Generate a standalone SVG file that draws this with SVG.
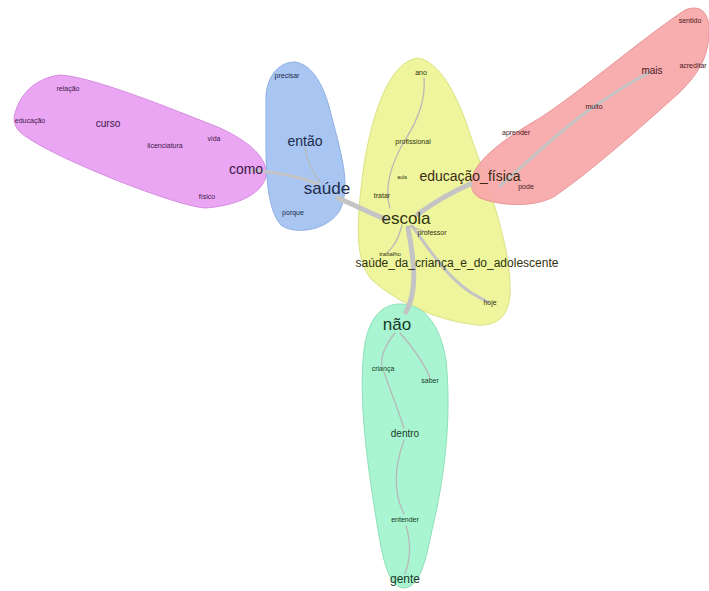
<svg xmlns="http://www.w3.org/2000/svg" width="709" height="591" viewBox="0 0 709 591">
<style>
text{font-family:"Liberation Sans",Arial,sans-serif;text-anchor:middle;dominant-baseline:middle}
.hull{stroke-width:1}
.e{fill:none;stroke:#c4c4c4;stroke-linecap:round}
.thick{stroke-width:5}
.mid{stroke-width:3}
.thin{stroke-width:1.3;stroke:#b8b8b8}
.pu{fill:#3d1748}.bl{fill:#1c2a4a}.ye{fill:#2f3210}.re{fill:#4a1a1f}.gr{fill:#183a28}
.s{font-size:7px}.m{font-size:10px}.l{font-size:14px}.xl{font-size:17px}
</style>
<rect width="709" height="591" fill="#ffffff"/>
<g id="hulls">
<path id="hull-magenta" class="hull" d="M14,118 C18,95 35,78 60,75 C90,76 170,108 220,128 C250,142 268,158 266,176 C262,195 235,206 205,208 C175,206 60,160 28,138 C18,132 14,126 14,118 Z" fill="#eaa6f3" stroke="#d58ee0"/>
<path id="hull-blue" class="hull" d="M266,95 C268,74 280,62 295,62 C310,64 322,80 330,110 C340,150 352,185 340,210 C330,228 300,236 282,226 C270,215 266,185 266,150 Z" fill="#a9c6f3" stroke="#8fb0e0"/>
<path id="hull-yellow" class="hull" d="M418,58 C440,62 458,95 472,140 C490,190 512,250 510,295 C508,322 490,328 470,324 C440,320 400,305 372,280 C356,262 356,230 362,180 C368,130 385,62 418,58 Z" fill="#eef59c" stroke="#dbe284"/>
<path id="hull-red" class="hull" d="M472,178 C476,160 505,138 540,118 C580,92 640,40 685,10 C700,4 709,12 709,30 C709,55 700,72 680,92 C640,128 590,172 555,196 C535,208 500,206 480,198 C472,194 470,186 472,178 Z" fill="#f8a9aa" stroke="#e89596" fill-opacity="0.95"/>
<path id="hull-green" class="hull" d="M400,304 C425,304 440,325 446,360 C452,420 444,480 432,530 C426,560 420,586 405,588 C390,588 384,566 378,530 C368,470 358,400 364,350 C368,318 382,304 400,304 Z" fill="#a9f5d1" stroke="#8ee0b8"/>
</g>
<g id="connectors">
<path class="e mid" d="M252,170 C275,172 298,176 318,184"/>
<path class="e thin" d="M305,148 C307,160 312,172 320,182"/>
<path class="e thick" d="M338,198 C352,204 368,212 385,219"/>
<path class="e thick" d="M418,214 C432,204 452,192 470,184"/>
<path class="e mid" d="M500,186 C530,160 560,130 592,108 C615,92 635,80 650,72"/>
<path class="e thick" d="M408,228 C414,260 418,290 406,312"/>
<path class="e thin" d="M424,78 C426,100 418,120 405,140 C390,165 384,190 390,208"/>
<path class="e thin" d="M402,225 C398,240 394,246 388,252"/>
<path class="e mid" d="M412,226 C430,250 445,275 470,292 C478,297 484,300 488,302"/>
<path class="e thin" d="M410,226 C416,228 420,230 426,232"/>
<path class="e thin" d="M395,333 C385,345 380,358 382,366"/>
<path class="e thin" d="M400,333 C415,350 425,365 430,378"/>
<path class="e thin" d="M384,372 C392,395 400,415 404,428"/>
<path class="e thin" d="M404,440 C395,465 392,490 404,514"/>
<path class="e thin" d="M406,526 C412,545 410,560 405,574"/>
</g>
<g id="node-relacao"><text class="s pu" x="68" y="89">relação</text></g>
<g id="node-educacao"><text class="s pu" x="30" y="121">educação</text></g>
<g id="node-curso"><text class="m pu" x="108" y="124">curso</text></g>
<g id="node-licenciatura"><text class="s pu" x="165" y="146">licenciatura</text></g>
<g id="node-vida"><text class="s pu" x="214" y="139">vida</text></g>
<g id="node-como"><text class="l pu" x="246" y="170">como</text></g>
<g id="node-fisico"><text class="s pu" x="207" y="197">físico</text></g>
<g id="node-precisar"><text class="s bl" x="287" y="76">precisar</text></g>
<g id="node-entao"><text class="l bl" x="305" y="142">então</text></g>
<g id="node-saude"><text class="xl bl" x="327" y="190">saúde</text></g>
<g id="node-porque"><text class="s bl" x="293" y="213">porque</text></g>
<g id="node-ano"><text class="s ye" x="421" y="73">ano</text></g>
<g id="node-profissional"><text class="s ye" x="413" y="142">profissional</text></g>
<g id="node-aula"><text class="s ye" x="402" y="178" style="font-size:5px">aula</text></g>
<g id="node-tratar"><text class="s ye" x="382" y="196">tratar</text></g>
<g id="node-escola"><text class="xl ye" x="406" y="220">escola</text></g>
<g id="node-professor"><text class="s ye" x="432" y="233">professor</text></g>
<g id="node-trabalho"><text class="s ye" x="390" y="254" style="font-size:6px">trabalho</text></g>
<g id="node-saude-crianca"><text class="ye" x="457" y="264" style="font-size:12px">saúde_da_criança_e_do_adolescente</text></g>
<g id="node-hoje"><text class="s ye" x="490" y="303">hoje</text></g>
<g id="node-educacao-fisica"><text class="l re" x="470" y="177" style="fill:#3a2a14">educação_física</text></g>
<g id="node-pode"><text class="s re" x="526" y="187">pode</text></g>
<g id="node-aprender"><text class="s re" x="516" y="133">aprender</text></g>
<g id="node-muito"><text class="s re" x="594" y="107">muito</text></g>
<g id="node-mais"><text class="m re" x="652" y="71">mais</text></g>
<g id="node-sentido"><text class="s re" x="690" y="21">sentido</text></g>
<g id="node-acreditar"><text class="s re" x="693" y="66">acreditar</text></g>
<g id="node-nao"><text class="xl gr" x="397" y="326">não</text></g>
<g id="node-crianca"><text class="s gr" x="383" y="369">criança</text></g>
<g id="node-saber"><text class="s gr" x="430" y="381">saber</text></g>
<g id="node-dentro"><text class="m gr" x="405" y="434">dentro</text></g>
<g id="node-entender"><text class="s gr" x="405" y="520">entender</text></g>
<g id="node-gente"><text class="gr" x="405" y="580" style="font-size:12px">gente</text></g>
</svg>
